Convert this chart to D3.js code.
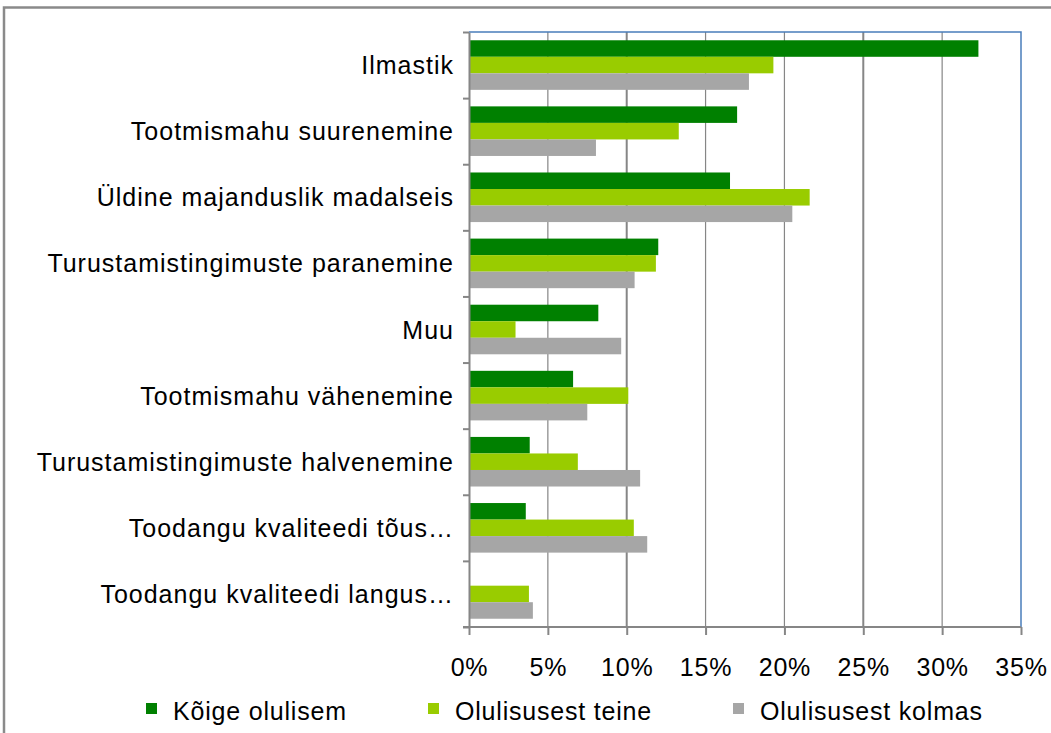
<!DOCTYPE html>
<html>
<head>
<meta charset="utf-8">
<script src="https://cdn.jsdelivr.net/npm/d3@7"></script>
<style>
  body { margin: 0; background: #fff; }
  svg text { font-family: "Liberation Sans", Arial, sans-serif; fill: #000; }
</style>
</head>
<body>
<script>
"use strict";

// chart data (values in %)
var categories = [
  "Ilmastik",
  "Tootmismahu suurenemine",
  "Üldine majanduslik madalseis",
  "Turustamistingimuste paranemine",
  "Muu",
  "Tootmismahu vähenemine",
  "Turustamistingimuste halvenemine",
  "Toodangu kvaliteedi tõus…",
  "Toodangu kvaliteedi langus…"
];
var seriesNames = ["Kõige olulisem", "Olulisusest teine", "Olulisusest kolmas"];
var koigeOlulisem = [32.3, 17.0, 16.55, 12.0, 8.2, 6.6, 3.85, 3.6, 0];
var olulisusestTeine = [19.3, 13.3, 21.6, 11.85, 2.95, 10.1, 6.9, 10.45, 3.8];
var olulisusestKolmas = [17.75, 8.05, 20.5, 10.5, 9.65, 7.5, 10.85, 11.3, 4.05];
var xTicks = [0, 5, 10, 15, 20, 25, 30, 35];

(function () {
  var colors = ["#008000", "#99cc00", "#a6a6a6"];
  var seriesValues = [koigeOlulisem, olulisusestTeine, olulisusestKolmas];

  var width = 1051, height = 733;
  var plot = {left: 469, right: 1021, top: 32, bottom: 627};

  var svg = d3.select("body").append("svg")
    .attr("width", width)
    .attr("height", height);

  // outer frame
  svg.append("rect")
    .attr("x", 4).attr("y", 7.5)
    .attr("width", 1200).attr("height", 900)
    .attr("fill", "none")
    .attr("stroke", "#8a8a8a")
    .attr("stroke-width", 2.5);

  var x = d3.scaleLinear().domain([0, 35]).range([plot.left, plot.right]);
  var y = d3.scaleBand().domain(categories).range([plot.top, plot.bottom]);
  var y1 = d3.scaleBand().domain(seriesNames).range([0, y.bandwidth()]).paddingOuter(0.5);

  // vertical gridlines
  svg.append("g")
    .selectAll("line")
    .data(xTicks.slice(1, -1))
    .enter().append("line")
    .attr("x1", function(d) { return x(d); })
    .attr("x2", function(d) { return x(d); })
    .attr("y1", plot.top)
    .attr("y2", plot.bottom)
    .attr("stroke", "#868686")
    .attr("stroke-width", function(d) { return (d == 10 || d == 25) ? 2 : 1.2; });

  // bars
  var rows = categories.map(function(c, i) {
    return seriesNames.map(function(s, j) {
      return {cat: c, series: s, value: seriesValues[j][i], color: colors[j]};
    });
  });

  svg.append("g")
    .selectAll("g")
    .data(rows)
    .enter().append("g")
    .attr("transform", function(d) { return "translate(0," + y(d[0].cat) + ")"; })
    .selectAll("rect")
    .data(function(d) { return d; })
    .enter().append("rect")
    .attr("x", x(0))
    .attr("y", function(d) { return y1(d.series); })
    .attr("width", function(d) { return x(d.value) - x(0); })
    .attr("height", y1.bandwidth())
    .attr("fill", function(d) { return d.color; });

  // plot border (top + right)
  svg.append("path")
    .attr("d", "M" + plot.left + "," + plot.top + "H" + plot.right + "V" + plot.bottom)
    .attr("fill", "none")
    .attr("stroke", "#4a7ebb")
    .attr("stroke-width", 1.5);

  // bottom axis
  var xAxis = svg.append("g")
    .attr("transform", "translate(0," + plot.bottom + ")")
    .call(d3.axisBottom(x)
      .tickValues(xTicks)
      .tickFormat(function(d) { return d + "%"; })
      .tickSizeInner(8).tickSizeOuter(0)
      .tickPadding(23));
  xAxis.select(".domain").attr("stroke", "#868686").attr("stroke-width", 2)
    .attr("d", "M" + (plot.left - 6) + ",0H" + plot.right);
  xAxis.selectAll(".tick line").attr("stroke", "#868686").attr("stroke-width", 2);
  xAxis.selectAll("text")
    .style("font-size", "25px")
    .style("letter-spacing", "0.8px")
    .attr("font-family", null);

  // left axis: tick marks on band edges
  var edge = d3.scaleLinear().domain([0, categories.length]).range([plot.top, plot.bottom]);
  var yTicks = svg.append("g")
    .attr("transform", "translate(" + plot.left + ",0)")
    .call(d3.axisLeft(edge)
      .tickValues(d3.range(categories.length + 1))
      .tickFormat("")
      .tickSizeInner(6).tickSizeOuter(0));
  yTicks.select(".domain").attr("stroke", "#868686").attr("stroke-width", 2);
  yTicks.selectAll(".tick line").attr("stroke", "#868686").attr("stroke-width", 2);

  // left axis: category labels
  var yLabels = svg.append("g")
    .attr("transform", "translate(" + plot.left + ",0)")
    .call(d3.axisLeft(y).tickSize(0).tickPadding(15));
  yLabels.select(".domain").remove();
  yLabels.selectAll("text")
    .style("font-size", "25px")
    .style("letter-spacing", "1px")
    .attr("dy", "0.36em")
    .attr("font-family", null);

  // legend
  var legendX = [146, 428, 733];
  var legend = svg.append("g")
    .selectAll("g")
    .data(seriesNames)
    .enter().append("g")
    .attr("transform", function(d, i) { return "translate(" + legendX[i] + ",703)"; });

  legend.append("rect")
    .attr("width", 11).attr("height", 11)
    .attr("fill", function(d, i) { return colors[i]; });

  legend.append("text")
    .attr("x", 27)
    .attr("y", 17)
    .style("font-size", "25px")
    .style("letter-spacing", "0.8px")
    .text(function(d) { return d; });
})();
</script>
</body>
</html>
